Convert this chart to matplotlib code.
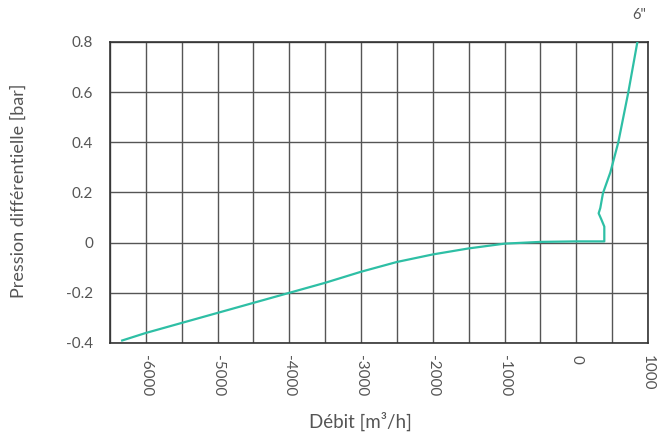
import matplotlib

matplotlib.use("Agg")
import matplotlib.pyplot as plt
import numpy as np

# differential pressure vs flow, 6" valve
flow = [-6330, -6000, -5500, -5000, -4500, -4000, -3500, -3000, -2500, -2000,
        -1500, -1000, -500, 0, 391, 391, 349, 312, 335, 372, 475, 586, 726, 852]
pressure = [-0.39, -0.36, -0.32, -0.28, -0.24, -0.20, -0.16, -0.116, -0.077, -0.047,
            -0.023, -0.004, 0.003, 0.005, 0.005, 0.064, 0.093, 0.117, 0.138, 0.197,
            0.28, 0.40, 0.60, 0.80]
series_label = '6"'

x_ticks = [-6000, -5000, -4000, -3000, -2000, -1000, 0, 1000]
y_ticks = [-0.4, -0.2, 0, 0.2, 0.4, 0.6, 0.8]
y_ticklabels = ["-0.4", "-0.2", "0", "0.2", "0.4", "0.6", "0.8"]

text_color = "#555555"
plt.rcParams["font.family"] = ["Lato", "DejaVu Sans"]

fig = plt.figure(figsize=(6.57, 4.44), dpi=100)
ax = fig.add_axes([0.1674, 0.2275, 0.8189, 0.678])

ax.set_xlim(-6500, 1000)
ax.set_ylim(-0.4, 0.8)

for gx in np.arange(-6500, 1001, 500):
    ax.axvline(gx, color="#555555", linewidth=1.0, zorder=1)
for gy in y_ticks:
    ax.axhline(gy, color="#555555", linewidth=1.0, zorder=1)

ax.plot(flow, pressure, color="#2ebfa5", linewidth=1.6, zorder=3,
        solid_joinstyle="round")
ax.text(flow[-1] + 30, 1.065, series_label, transform=ax.get_xaxis_transform(),
        ha="center", va="bottom", fontsize=10.5, color=text_color)

ax.set_xticks(x_ticks)
ax.set_xticklabels([str(v) for v in x_ticks], rotation=-90, va="top", ha="center")
ax.set_yticks(y_ticks)
ax.set_yticklabels(y_ticklabels)
ax.tick_params(length=0, labelsize=11, labelcolor=text_color, pad=9)
ax.tick_params(axis="y", pad=12)

for s in ax.spines.values():
    s.set_color("#333333")
    s.set_linewidth(1.2)

fig.text(0.548, 0.03, "Débit [m³/h]", ha="center", va="bottom",
         fontsize=13.5, color=text_color)
fig.text(0.028, 0.57, "Pression différentielle [bar]", rotation=90,
         ha="center", va="center", fontsize=13, color=text_color)

fig.savefig("out.png", dpi=100)
plt.close(fig)
